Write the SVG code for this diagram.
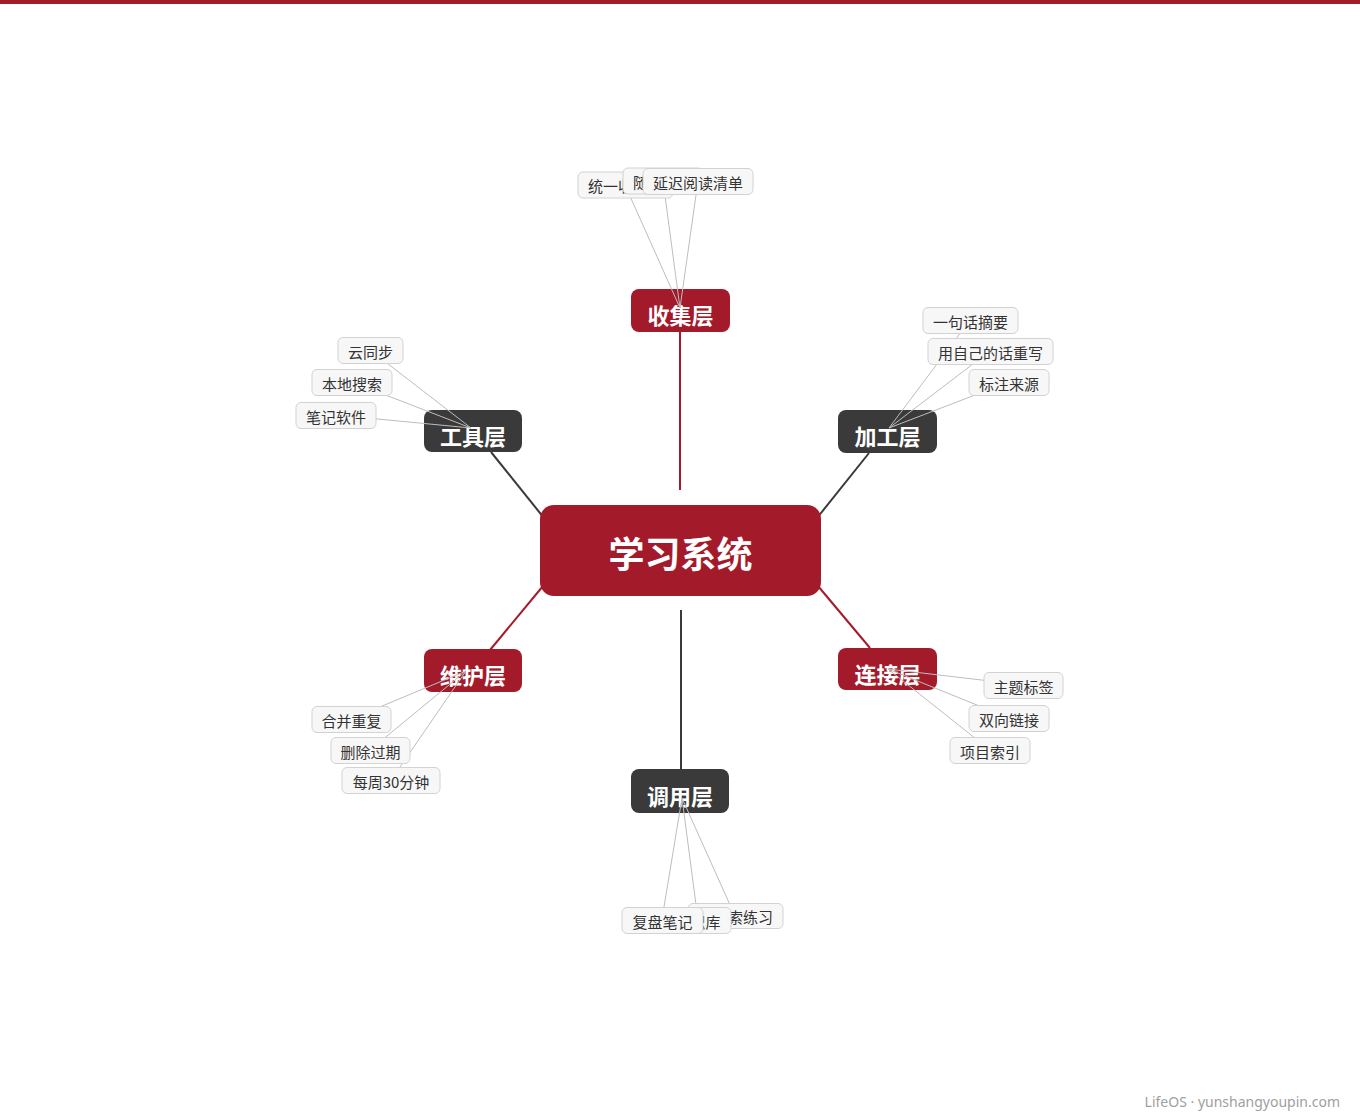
<svg xmlns="http://www.w3.org/2000/svg" width="1360" height="1120" viewBox="0 0 1360 1120">
<style>
.cjk{font-family:"Noto Sans CJK SC","Noto Sans",sans-serif}
.main{stroke-width:2;fill:none}
.red{stroke:#a31b2a}
.dark{stroke:#3a3a3a}
.leafline{stroke:#bdbdbd;stroke-width:1;fill:none}
.leaf rect{fill:#f7f7f7;stroke:#d2d2d2;stroke-width:1}
.leaf text{font-size:15px;fill:#333;text-anchor:middle}
.cat text{font-size:22px;font-weight:700;fill:#fff;text-anchor:middle}
.catR{fill:#a31b2a}
.catD{fill:#3a3a3a}
</style>
<rect x="0" y="0" width="1360" height="1120" fill="#fff"/>
<rect x="0" y="0" width="1360" height="4" fill="#a31b2a"/>

<g id="connectors">
<line class="main red" x1="680" y1="490" x2="680" y2="332"/>
<line class="main dark" x1="681" y1="610" x2="681" y2="770"/>
<line class="main dark" x1="544" y1="518" x2="491" y2="452"/>
<line class="main dark" x1="817" y1="518" x2="869" y2="453"/>
<line class="main red" x1="543" y1="586" x2="490" y2="650"/>
<line class="main red" x1="818" y1="586" x2="870" y2="648"/>
</g>

<g id="center">
<rect x="540" y="505" width="281" height="91" rx="14" fill="#a31b2a"/>
<text class="cjk" x="680.5" y="568" font-size="36" font-weight="700" fill="#fff" text-anchor="middle">学习系统</text>
</g>

<g id="node-collect" class="cat cjk"><rect class="catR" x="631" y="289" width="99" height="43" rx="8"/><text x="680.5" y="324">收集层</text></g>
<g id="node-tools" class="cat cjk"><rect class="catD" x="424" y="410" width="98" height="42" rx="8"/><text x="473" y="445">工具层</text></g>
<g id="node-process" class="cat cjk"><rect class="catD" x="838" y="410" width="99" height="43" rx="8"/><text x="887.5" y="445">加工层</text></g>
<g id="node-maintain" class="cat cjk"><rect class="catR" x="424" y="649" width="98" height="43" rx="8"/><text x="473" y="684">维护层</text></g>
<g id="node-connect" class="cat cjk"><rect class="catR" x="838" y="648" width="99" height="42" rx="8"/><text x="887.5" y="683">连接层</text></g>
<g id="node-use" class="cat cjk"><rect class="catD" x="631" y="769" width="98" height="44" rx="8"/><text x="680" y="805">调用层</text></g>

<g id="leaf-connectors">
<line class="leafline" x1="680" y1="308" x2="625" y2="185"/>
<line class="leafline" x1="680" y1="308" x2="663" y2="181"/>
<line class="leafline" x1="680" y1="308" x2="698" y2="181"/>
<line class="leafline" x1="471" y1="428" x2="370" y2="350"/>
<line class="leafline" x1="471" y1="428" x2="352" y2="382"/>
<line class="leafline" x1="471" y1="428" x2="336" y2="415"/>
<line class="leafline" x1="889" y1="428" x2="970" y2="320"/>
<line class="leafline" x1="889" y1="428" x2="990" y2="351"/>
<line class="leafline" x1="889" y1="428" x2="1009" y2="382"/>
<line class="leafline" x1="466" y1="671" x2="351" y2="719"/>
<line class="leafline" x1="466" y1="671" x2="370" y2="750"/>
<line class="leafline" x1="466" y1="671" x2="391" y2="780"/>
<line class="leafline" x1="888" y1="669" x2="1024" y2="685"/>
<line class="leafline" x1="888" y1="669" x2="1009" y2="718"/>
<line class="leafline" x1="888" y1="669" x2="990" y2="750"/>
<line class="leafline" x1="682" y1="798" x2="662" y2="919"/>
<line class="leafline" x1="682" y1="798" x2="698" y2="920"/>
<line class="leafline" x1="682" y1="798" x2="735" y2="916"/>
</g>

<g id="leaf-c1" class="leaf cjk"><rect x="578" y="172" width="95" height="26" rx="5"/><text x="625.5" y="192">统一收件箱</text></g>
<g id="leaf-c2" class="leaf cjk"><rect x="623" y="168" width="80" height="26" rx="5"/><text x="663" y="188">随手捕捉</text></g>
<g id="leaf-c3" class="leaf cjk"><rect x="643" y="168.5" width="110" height="26" rx="5"/><text x="698" y="189">延迟阅读清单</text></g>

<g id="leaf-t1" class="leaf cjk"><rect x="338" y="337.5" width="65" height="26" rx="5"/><text x="370.5" y="358">云同步</text></g>
<g id="leaf-t2" class="leaf cjk"><rect x="312" y="369.5" width="80" height="26" rx="5"/><text x="352" y="390">本地搜索</text></g>
<g id="leaf-t3" class="leaf cjk"><rect x="296" y="402.5" width="80" height="26" rx="5"/><text x="336" y="423">笔记软件</text></g>

<g id="leaf-p1" class="leaf cjk"><rect x="923" y="307.5" width="95" height="26" rx="5"/><text x="970.5" y="328">一句话摘要</text></g>
<g id="leaf-p2" class="leaf cjk"><rect x="928" y="338.5" width="125" height="26" rx="5"/><text x="990.5" y="359">用自己的话重写</text></g>
<g id="leaf-p3" class="leaf cjk"><rect x="969" y="369.5" width="80" height="26" rx="5"/><text x="1009" y="390">标注来源</text></g>

<g id="leaf-m1" class="leaf cjk"><rect x="312" y="706.5" width="79" height="26" rx="5"/><text x="351.5" y="727">合并重复</text></g>
<g id="leaf-m2" class="leaf cjk"><rect x="331" y="737.5" width="79" height="26" rx="5"/><text x="370.5" y="758">删除过期</text></g>
<g id="leaf-m3" class="leaf cjk"><rect x="342" y="767.5" width="98" height="26" rx="5"/><text x="391" y="788">每周30分钟</text></g>

<g id="leaf-k1" class="leaf cjk"><rect x="984" y="672.5" width="79" height="26" rx="5"/><text x="1023.5" y="693">主题标签</text></g>
<g id="leaf-k2" class="leaf cjk"><rect x="969" y="705.5" width="80" height="26" rx="5"/><text x="1009" y="726">双向链接</text></g>
<g id="leaf-k3" class="leaf cjk"><rect x="950" y="737.5" width="80" height="26" rx="5"/><text x="990" y="758">项目索引</text></g>

<g id="leaf-u3" class="leaf cjk"><rect x="688" y="903.5" width="95" height="25" rx="5"/><text x="735.5" y="923">做检索练习</text></g>
<g id="leaf-u2" class="leaf cjk"><rect x="665" y="907.5" width="66" height="26" rx="5"/><text x="698" y="928">知识库</text></g>
<g id="leaf-u1" class="leaf cjk"><rect x="622" y="907.5" width="81" height="26" rx="5"/><text x="662.5" y="928">复盘笔记</text></g>

<text x="1340" y="1107" font-family="'Noto Sans','Open Sans',sans-serif" font-size="14" fill="#a0a0a0" text-anchor="end">LifeOS · yunshangyoupin.com</text>
</svg>
